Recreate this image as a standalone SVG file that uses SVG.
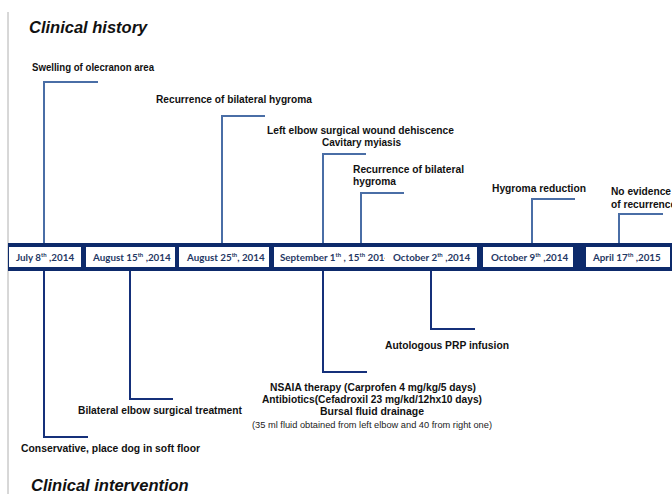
<svg xmlns="http://www.w3.org/2000/svg" width="672" height="494" viewBox="0 0 672 494">
<style>
.t{font-family:"Liberation Sans",Arial,sans-serif;font-weight:bold;font-size:10.2px;fill:#111}
.s{font-family:"Liberation Sans",Arial,sans-serif;font-size:8.3px;fill:#222}
.h{font-family:"Liberation Sans",Arial,sans-serif;font-weight:bold;font-style:italic;font-size:16.5px;fill:#111}
.d{font-family:Lato,"Open Sans",sans-serif;font-weight:bold;font-size:9.8px;fill:#1f3864}
.sup{font-size:6px}
.box{fill:#fff;stroke:none}
.up{fill:none;stroke:#4a6ea6;stroke-width:2}
.dn{fill:none;stroke:#15307a;stroke-width:2}
</style>
<rect width="672" height="494" fill="#fff"/>
<line x1="8" y1="12" x2="8" y2="494" stroke="#b0b0b0" stroke-width="1"/>
<text class="h" x="29" y="33">Clinical history</text>
<text class="h" x="31" y="491">Clinical intervention</text>
<g id="connectors">
<polyline class="up" points="44,243 44,82 98,82"/>
<polyline class="up" points="222,243 222,116 265,116"/>
<polyline class="up" points="323,243 323,154 366,154"/>
<polyline class="up" points="361,243 361,193 404,193"/>
<polyline class="up" points="532,243 532,199 575,199"/>
<polyline class="up" points="619,243 619,214 663,214"/>
<polyline class="dn" points="44,270 44,437 88,437"/>
<polyline class="dn" points="130,270 130,399 173,399"/>
<polyline class="dn" points="323,270 323,372 367,372"/>
<polyline class="dn" points="431,270 431,329 475,329"/>
</g>
<g id="timeline">
<rect x="8" y="243" width="664" height="28" fill="#0d2a6b"/>
</g>
<g id="d1"><rect class="box" x="9" y="247" width="72" height="20"/><text class="d" x="16" y="261">July 8<tspan class="sup" dy="-4">th</tspan><tspan dy="4"> ,2014</tspan></text></g>
<g id="d2"><rect class="box" x="86" y="247" width="89" height="20"/><text class="d" x="93" y="261">August 15<tspan class="sup" dy="-4">th</tspan><tspan dy="4"> ,2014</tspan></text></g>
<g id="d3"><rect class="box" x="179" y="247" width="90" height="20"/><text class="d" x="187" y="261">August 25<tspan class="sup" dy="-4">th</tspan><tspan dy="4">, 2014</tspan></text></g>
<g id="d4"><rect class="box" x="274" y="247" width="112" height="20"/><text class="d" x="280" y="261">September 1<tspan class="sup" dy="-4">th</tspan><tspan dy="4"> , 15</tspan><tspan class="sup" dy="-4">th</tspan><tspan dy="4"> 2014</tspan></text></g>
<g id="d5"><rect class="box" x="385" y="247" width="92" height="20"/><text class="d" x="393" y="261">October  2<tspan class="sup" dy="-4">th</tspan><tspan dy="4"> ,2014</tspan></text></g>
<g id="d6"><rect class="box" x="483" y="247" width="90" height="20"/><text class="d" x="491" y="261">October  9<tspan class="sup" dy="-4">th</tspan><tspan dy="4"> ,2014</tspan></text></g>
<g id="d7"><rect class="box" x="586" y="247" width="84" height="20"/><text class="d" x="593" y="261">April 17<tspan class="sup" dy="-4">th</tspan><tspan dy="4">  ,2015</tspan></text></g>
<g id="e1"><text class="t" x="32" y="71" textLength="122" lengthAdjust="spacingAndGlyphs">Swelling of olecranon area</text></g>
<g id="e2"><text class="t" x="156" y="103" textLength="156" lengthAdjust="spacingAndGlyphs">Recurrence of bilateral hygroma</text></g>
<g id="e3"><text class="t" x="267" y="134" textLength="187" lengthAdjust="spacingAndGlyphs">Left elbow surgical wound dehiscence</text><text class="t" x="322" y="146" textLength="79" lengthAdjust="spacingAndGlyphs">Cavitary myiasis</text></g>
<g id="e4"><text class="t" x="353" y="173" textLength="111" lengthAdjust="spacingAndGlyphs">Recurrence of bilateral</text><text class="t" x="353" y="185">hygroma</text></g>
<g id="e5"><text class="t" x="492" y="192" textLength="94" lengthAdjust="spacingAndGlyphs">Hygroma  reduction</text></g>
<g id="e6"><text class="t" x="611" y="195">No evidence</text><text class="t" x="611" y="208">of recurrence</text></g>
<g id="i1"><text class="t" x="21" y="452" textLength="179" lengthAdjust="spacingAndGlyphs">Conservative,  place dog in soft floor</text></g>
<g id="i2"><text class="t" x="78" y="414" textLength="164" lengthAdjust="spacingAndGlyphs">Bilateral elbow surgical treatment</text></g>
<g id="i3"><text class="t" x="270" y="391" textLength="206" lengthAdjust="spacingAndGlyphs">NSAIA therapy (Carprofen 4 mg/kg/5  days)</text><text class="t" x="262" y="403" textLength="220" lengthAdjust="spacingAndGlyphs">Antibiotics(Cefadroxil 23 mg/kd/12hx10  days)</text><text class="t" x="320" y="415" textLength="104" lengthAdjust="spacingAndGlyphs">Bursal fluid drainage</text><text class="s" x="252" y="428" textLength="240" lengthAdjust="spacingAndGlyphs">(35 ml fluid obtained from left elbow and 40 from right one)</text></g>
<g id="i4"><text class="t" x="385" y="349" textLength="124" lengthAdjust="spacingAndGlyphs">Autologous PRP infusion</text></g>
</svg>
